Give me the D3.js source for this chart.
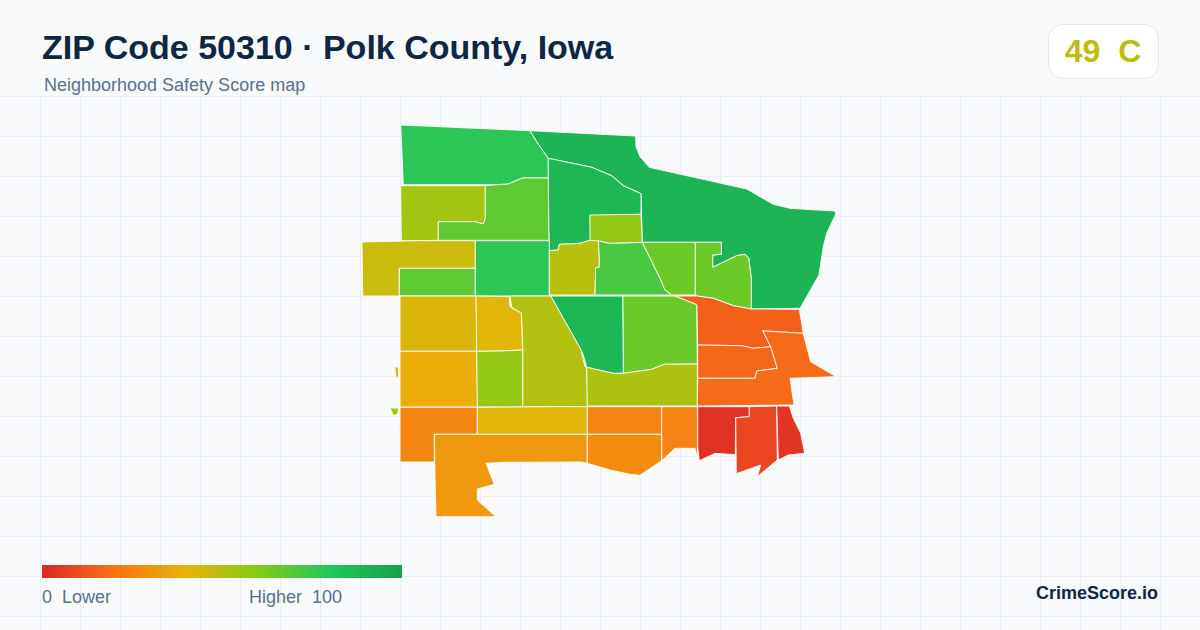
<!DOCTYPE html>
<html lang="en">
<head>
<meta charset="UTF-8">
<title>ZIP Code 50310 Safety Score map</title>
<script src="https://d3js.org/d3.v7.min.js"></script>
<style>
    html, body { margin: 0; padding: 0; background: #f8fafc; }
    svg { display: block; }
    text { font-family: "Liberation Sans", Arial, sans-serif; white-space: pre; }
</style>
</head>
<body>
<svg id="chart" width="1200" height="630"></svg>
<script>
// color ramp of the legend
const rampStops = [0, 20, 40, 60, 80, 100];
const rampColors = ["#dc2626", "#f97316", "#eab308", "#84cc16", "#22c55e", "#16a34a"];

const titleText = "ZIP Code 50310 · Polk County, Iowa";
const subtitleText = "Neighborhood Safety Score map";
const overallScore = 49;
const overallGrade = "C";

// score of each tract, same order as tractRings
const tractScores = [78, 90, 88, 54, 68, 46, 68, 78, 50, 72, 65, 65, 57, 15, 65, 88, 51, 43, 42, 38, 57, 43, 55, 26, 42, 32, 52, 25, 25, 28, 17, 18, 3, 8, 4];

// tract outlines, map units: x east, y north
const tractRings = [
    [[40.7,395],[170,389.3],[176.7,378.3],[188.3,361.7],[188.3,342],[162.3,342],[148.3,336],[136.7,335.3],[43.3,335.3],[41.7,373.3]],
    [[170,389.3],[275.7,384],[276,373.3],[280,363.3],[289.3,352.7],[386.7,331],[413.3,315.7],[430,311.7],[456.7,310],[475,309],[475.7,305.7],[466.7,286.7],[463.3,273.3],[459,245],[440,211.7],[391.3,211],[391.3,241.7],[388.7,261.7],[385,265.7],[376.7,264.3],[352.7,252.7],[352.7,265],[361.3,265.7],[361.3,277.7],[282.3,277.7],[281,326.3],[263.3,334.3],[251.7,344.3],[231.7,352.7],[188.3,361.7],[176.7,378.3]],
    [[188.3,361.7],[231.7,352.7],[251.7,344.3],[263.3,334.3],[281,326.3],[281,305.7],[256.7,305],[230,304.3],[230.7,280],[220,276.7],[199.3,275.7],[198.3,270],[189.3,269.3],[188.7,292]],
    [[40.7,334.3],[125.3,334.3],[125.3,301.7],[123.3,296],[115,298.3],[78.3,298.3],[78.3,279.7],[60,279.3],[41.3,279]],
    [[125.3,334.3],[136.7,335.3],[148.3,336],[162.3,342],[188.3,342],[188.7,292],[189,279.7],[78.3,279.7],[78.3,298.3],[115,298.3],[123.3,296],[125.3,301.7]],
    [[2,278],[60,279.3],[115.3,279.3],[115.3,251.7],[39.3,251.7],[39.3,224],[2.7,224]],
    [[39.3,251.7],[115.3,251.7],[115.3,224],[39.3,224]],
    [[115.3,279.3],[189.3,279.3],[189.3,224],[115.3,224]],
    [[189.3,269.3],[198.3,270],[199.3,275.7],[220,276.7],[230.7,280],[238.3,279.3],[239.3,263.3],[239.3,252.7],[235.7,252.3],[235,225],[189.3,225]],
    [[238.3,279.3],[249.3,276.7],[282.3,277.7],[300,241.7],[305,230],[311.7,225],[235,225],[235.7,252.3],[239.3,252.7],[239.3,263.3]],
    [[282.3,277.7],[335.3,277.7],[335.3,225],[311.7,225],[305,230],[300,241.7]],
    [[335.3,277.7],[361.3,277.7],[361.3,265.7],[352.7,265],[352.7,252.7],[376.7,264.3],[385,265.7],[388.7,261.7],[391.3,241.7],[391.3,211],[373.3,214.3],[353.3,221.7],[336.7,224],[335.3,225]],
    [[230,305],[281,305.7],[282.3,277.7],[249.3,276.7],[238.3,279.3],[230,279.3]],
    [[315,224],[336.7,224],[353.3,221.7],[373.3,214.3],[391.3,211],[439.3,210.7],[443.3,186.7],[405,189],[402.7,189.3],[410.7,173.3],[393.3,171.7],[381.7,174.3],[337.7,175],[336.7,215],[335,216]],
    [[262.7,224],[315,224],[335,216],[336.7,215],[337.3,156],[304.3,155.7],[291.7,150.7],[263.3,146.7]],
    [[190.7,224],[262.7,224],[263.3,146.7],[253.3,146.7],[226.7,152.7],[223.3,165],[220,172],[211.7,186.7]],
    [[151.7,224],[190.7,224],[211.7,186.7],[221,170],[225,153.3],[226.7,152.7],[227.3,133.3],[227.3,113.3],[195,113.3],[162.7,113],[162.7,170],[161.3,206.7],[151.7,212.7],[150,222.7]],
    [[40,224],[116,224],[116.7,196.7],[116.7,168.7],[40,168.7]],
    [[116,224],[149.3,223.3],[150,213.3],[161.3,206.7],[162.7,170],[140,169],[116.7,168.7]],
    [[40,168.7],[116.7,168.7],[117.7,113],[40,113]],
    [[116.7,168.7],[140,169],[162.7,170],[162.7,113],[117.3,113]],
    [[34.7,153],[38.6,153],[38.6,141.4],[35.7,143.7]],
    [[30,112],[39,112],[37.3,105.6],[33.3,104.6]],
    [[40,112.7],[117.3,112.7],[117.3,85.7],[74.3,85.7],[74.3,58],[40,58]],
    [[117.3,112.7],[195,113.3],[227.3,113.3],[227.3,85.7],[117.3,85.7]],
    [[74.3,85.7],[227.3,85.7],[227.3,56.7],[221.7,58],[145,57.7],[126,56.7],[134.3,35.7],[117.3,31],[117.3,20],[135.7,3.3],[76,3.3],[75,43.3]],
    [[226.7,152.7],[253.3,146.7],[263.3,146.7],[291.7,150.7],[304.3,155.7],[337.3,156],[337.3,114],[227.3,114]],
    [[227.3,113.3],[301.7,113.3],[301.7,85.7],[227.3,85.7]],
    [[301.7,113.3],[337.3,113.3],[337.7,86],[337.3,61.7],[335,71.7],[315,71.7],[301.7,59.3]],
    [[227.3,85.7],[301.7,85.7],[301.7,59.3],[280,44.7],[270,45.7],[250,50],[227.3,56.7]],
    [[337.7,141.7],[395,141.7],[396.7,149],[417.3,151.7],[410.7,173.3],[393.3,171.7],[381.7,174.3],[337.7,175]],
    [[337.7,141.7],[395,141.7],[396.7,149],[417.3,151.7],[410.7,173.3],[402.7,189.3],[405,189],[443.3,186.7],[446.7,173.3],[450.7,158.3],[476,143.3],[430,141.7],[434,115],[337.3,114]],
    [[337.7,113.3],[389.3,113.3],[389.3,103.3],[375.7,102.3],[375.3,65.3],[355,66.7],[339.3,59.3],[337.7,73.3]],
    [[389.3,113.3],[416.7,114],[417.3,60],[397.3,43.3],[400.7,55],[376.3,46.3],[375.7,102.3],[389.3,103.3]],
    [[416.7,114],[429.3,114],[433.3,101.7],[440.7,86.7],[444.7,66.7],[428.3,65],[418.3,60]]
];

const svg = d3.select("#chart");

const color = d3.scaleLinear().domain(rampStops).range(rampColors).interpolate(d3.interpolateRgb);

// background grid
const gridX = d3.range(40.5, 1200, 40);
const gridY = d3.range(96.5, 630, 40);
svg.append("g").selectAll("line").data(gridX).join("line")
    .attr("x1", d => d).attr("x2", d => d).attr("y1", 96).attr("y2", 630)
    .attr("stroke", "#e8eef4").attr("stroke-width", 1);
svg.append("g").selectAll("line").data(gridY).join("line")
    .attr("x1", 0).attr("x2", 1200).attr("y1", d => d).attr("y2", d => d)
    .attr("stroke", "#e8eef4").attr("stroke-width", 1);

// map
const x = d3.scaleLinear().domain([0, 480]).range([360, 840]);
const y = d3.scaleLinear().domain([0, 400]).range([520, 120]);
const line = d3.line().x(d => x(d[0])).y(d => y(d[1])).curve(d3.curveLinearClosed);

svg.append("g").selectAll("path").data(tractRings).join("path")
    .attr("d", line)
    .attr("fill", (d, i) => color(tractScores[i]))
    .attr("stroke", "#ffffff")
    .attr("stroke-width", 0.9)
    .attr("stroke-linejoin", "round");

// header
svg.append("text").attr("x", 42).attr("y", 59)
    .attr("font-size", 34).attr("font-weight", 700).attr("fill", "#0f2742")
    .text(titleText);
svg.append("text").attr("x", 44).attr("y", 91)
    .attr("font-size", 18).attr("fill", "#5b708c")
    .text(subtitleText);

// score badge
svg.append("rect").attr("x", 1048.5).attr("y", 24.5).attr("width", 110).attr("height", 54).attr("rx", 14)
    .attr("fill", "#ffffff").attr("stroke", "#e2e8f0");
svg.append("text").attr("x", 1103).attr("y", 62).attr("text-anchor", "middle")
    .attr("font-size", 32).attr("font-weight", 700).attr("fill", color(overallScore))
    .text(overallScore + "  " + overallGrade);

// legend
const legendX = d3.scaleLinear().domain([0, 100]).range([42, 402]);
const grad = svg.append("defs").append("linearGradient").attr("id", "ramp");
grad.selectAll("stop").data(rampStops).join("stop")
    .attr("offset", d => d + "%")
    .attr("stop-color", d => color(d));
svg.append("rect").attr("x", legendX(0)).attr("y", 565).attr("width", legendX(100) - legendX(0)).attr("height", 13)
    .attr("fill", "url(#ramp)");
svg.append("text").attr("x", 42).attr("y", 603).attr("font-size", 18).attr("fill", "#5b708c").text("0  Lower");
svg.append("text").attr("x", 342).attr("y", 603).attr("text-anchor", "end").attr("font-size", 18).attr("fill", "#5b708c").text("Higher  100");

svg.append("text").attr("x", 1158).attr("y", 599).attr("text-anchor", "end")
    .attr("font-size", 18).attr("font-weight", 700).attr("fill", "#0f2742")
    .text("CrimeScore.io");
</script>
</body>
</html>
